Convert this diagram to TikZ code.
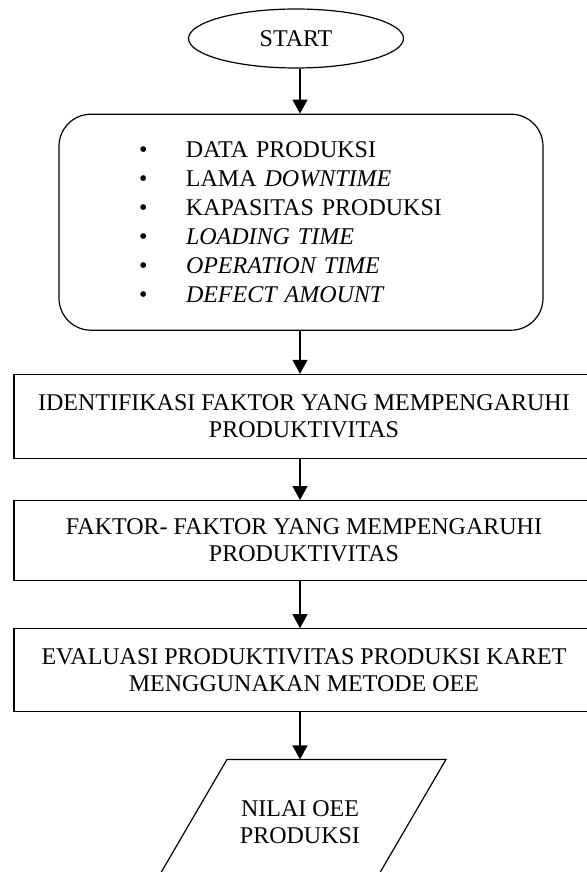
\documentclass[tikz,border=0pt]{standalone}
\usepackage{fontspec}
\setmainfont{Liberation Serif}
\usepackage{tikz}
\usetikzlibrary{positioning,shapes.geometric,arrows.meta}
\newcommand{\bulletline}[1]{\makebox[23.5pt][l]{\textbullet}#1}

\begin{document}
  \begin{tikzpicture}[
      x=0.5pt, y=-0.5pt,
      every node/.style={font=\fontsize{12pt}{13.5pt}\selectfont, line width=0.6pt},
      startnode/.style={ellipse,draw, minimum width=107.5pt, minimum height=29.5pt},
      listbox/.style={rectangle,rounded corners=16pt,draw, minimum width=242pt, minimum height=108pt, text width=162pt, align=left, font=\fontsize{12pt}{14.5pt}\selectfont},
      procbox/.style={rectangle,draw, minimum width=290pt, minimum height=42pt, align=center},
      iobox/.style={rectangle, minimum width=109.5pt, minimum height=62pt, align=center},
      flow/.style={-{Triangle[length=7pt,width=7.5pt]}, line width=0.6pt}]
    \useasboundingbox (0,0) rectangle (587,872);
    \node[startnode] (start) at (296,38.5) {START};
    \node[listbox, below=22.5pt of start, xshift=2.5pt] (data)
      {\bulletline{DATA PRODUKSI}\\
       \bulletline{LAMA \textit{DOWNTIME}}\\
       \bulletline{KAPASITAS PRODUKSI}\\
       \bulletline{\textit{LOADING TIME}}\\
       \bulletline{\textit{OPERATION TIME}}\\
       \bulletline{\textit{DEFECT AMOUNT}}};
    \node[procbox, below=21.5pt of data, xshift=1.5pt] (ident)
      {IDENTIFIKASI FAKTOR YANG MEMPENGARUHI\\PRODUKTIVITAS};
    \node[procbox, below=20.5pt of ident, minimum height=40pt] (faktor)
      {FAKTOR- FAKTOR YANG MEMPENGARUHI\\PRODUKTIVITAS};
    \node[procbox, below=23.5pt of faktor, minimum height=41.5pt] (eval)
      {EVALUASI PRODUKTIVITAS PRODUKSI KARET\\MENGGUNAKAN METODE OEE};
    \node[iobox, below=23.5pt of eval, xshift=-2pt] (nilai) {NILAI OEE\\PRODUKSI};
    \draw[line width=0.6pt] ([xshift=-36.5pt]nilai.north) -- ([xshift=73pt]nilai.north)
      -- ([xshift=36.5pt]nilai.south) -- ([xshift=-73pt]nilai.south) -- cycle;

    \draw[flow] (start.south -| nilai.north) -- (data.north -| nilai.north);
    \draw[flow] (data.south -| nilai.north) -- (ident.north -| nilai.north);
    \draw[flow] (ident.south -| nilai.north) -- (faktor.north -| nilai.north);
    \draw[flow] (faktor.south -| nilai.north) -- (eval.north -| nilai.north);
    \draw[flow] (eval.south -| nilai.north) -- (nilai.north);
  \end{tikzpicture}
\end{document}
